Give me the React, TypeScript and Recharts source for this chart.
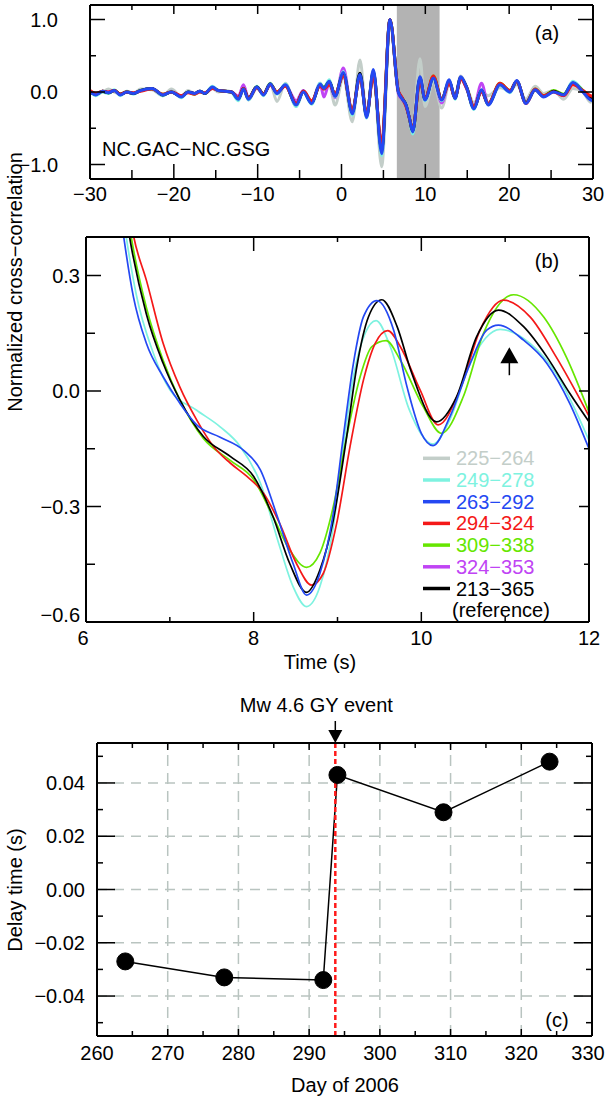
import React from "react";
import {
  LineChart,
  Line,
  XAxis,
  YAxis,
  ReferenceArea,
  ReferenceLine,
  ReferenceDot,
} from "recharts";

const FONT = "'Liberation Sans', Arial, Helvetica, sans-serif";
const FS = 20;

// ---- series styling (names as in the legend)
const names = ["225\u2212264", "249\u2212278", "263\u2212292", "294\u2212324", "309\u2212338", "324\u2212353", "213\u2212365"];
const colors = ["#c3cec9", "#7ef2e0", "#2448f2", "#f41818", "#66e600", "#c044f4", "#000000"];

// ---- panel (a): full waveforms, sampled at turning points
const tA = [-30, -29.3, -28.5, -27.8, -27.1, -26.4, -25.6, -24.8, -24.0, -22.6, -21.3, -20.3, -19.1, -18.3, -17.5, -16.9, -16.3, -15.4, -14.7, -13.9, -13.1, -12.3, -11.7, -11.1, -10.1, -9.3, -8.5, -7.7, -6.7, -5.4, -4.55, -3.56, -2.56, -2.1, -1.45, -0.77, 0.22, 1.29, 2.2, 3.0, 3.8, 4.79, 5.78, 6.78, 7.2, 7.7, 8.1, 8.49, 9.36, 9.96, 10.96, 11.95, 12.86, 13.54, 14.22, 14.9, 15.8, 16.7, 17.5, 18.9, 20.1, 20.9, 22.0, 23.1, 24.1, 25.3, 26.5, 27.6, 28.8, 29.7, 30];
const a225 = [-0.01, -0.02, 0.0, 0.04, 0.0, -0.03, 0.01, -0.02, 0.04, 0.03, -0.05, 0.04, -0.06, 0.02, -0.02, 0.0, -0.02, 0.05, 0.0, 0.02, 0.0, -0.09, 0.06, -0.11, 0.05, -0.02, 0.12, -0.13, 0.12, -0.2, 0.02, -0.15, 0.12, 0.03, 0.1, -0.18, 0.2, -0.41, 0.44, -0.32, 0.25, -1.03, 0.95, 0.02, -0.08, -0.17, -0.34, -0.5, 0.46, -0.2, 0.15, -0.22, 0.1, -0.05, 0.22, 0.08, -0.15, 0.0, -0.05, 0.06, 0.02, 0.1, -0.1, 0.08, -0.02, 0.02, -0.1, 0.05, 0.0, -0.14, -0.1];
const a249 = [0.01, -0.05, 0.0, -0.02, 0.03, -0.05, 0.01, -0.03, 0.02, 0.04, -0.05, 0.01, -0.08, 0.0, -0.03, 0.01, -0.02, 0.08, 0.02, 0.01, -0.01, -0.12, 0.04, -0.11, 0.08, -0.05, 0.12, -0.03, 0.11, -0.2, 0.0, -0.17, 0.12, 0.06, 0.17, -0.07, 0.28, -0.32, 0.25, -0.36, 0.3, -0.88, 0.99, 0.01, -0.08, -0.17, -0.37, -0.58, 0.2, -0.12, 0.18, -0.12, 0.16, -0.1, 0.2, 0.06, -0.24, 0.03, -0.18, 0.09, -0.01, 0.15, -0.15, 0.03, -0.06, 0.01, -0.04, 0.15, 0.02, -0.1, -0.12];
const a263 = [0.0, -0.04, 0.01, -0.01, 0.02, -0.04, 0.0, -0.02, 0.02, 0.05, -0.04, 0.0, -0.07, 0.0, -0.02, 0.01, -0.02, 0.07, 0.02, 0.01, 0.0, -0.1, 0.04, -0.1, 0.07, -0.04, 0.11, -0.02, 0.1, -0.18, 0.0, -0.16, 0.11, 0.05, 0.15, -0.06, 0.27, -0.3, 0.24, -0.35, 0.31, -0.85, 1.0, 0.0, -0.09, -0.18, -0.36, -0.55, 0.21, -0.11, 0.19, -0.11, 0.17, -0.09, 0.21, 0.07, -0.23, 0.03, -0.18, 0.1, 0.0, 0.16, -0.16, 0.03, -0.07, 0.0, -0.04, 0.13, 0.0, -0.11, -0.12];
const a294 = [0.02, -0.02, 0.01, 0.0, 0.02, -0.03, 0.0, -0.01, 0.01, 0.04, -0.03, 0.0, -0.05, -0.01, -0.03, 0.0, -0.01, 0.05, 0.02, 0.01, 0.0, -0.08, 0.05, -0.09, 0.06, -0.03, 0.1, 0.0, 0.08, -0.16, 0.01, -0.12, 0.08, 0.04, 0.1, -0.02, 0.22, -0.25, 0.2, -0.3, 0.22, -0.72, 1.0, 0.02, -0.07, -0.2, -0.36, -0.52, 0.15, -0.09, 0.22, -0.1, 0.12, -0.08, 0.18, 0.06, -0.2, 0.0, -0.16, 0.12, 0.02, 0.15, -0.16, 0.04, -0.05, 0.0, -0.05, 0.1, 0.02, -0.05, -0.06];
const a309 = [0.01, -0.03, 0.01, -0.01, 0.02, -0.03, 0.0, -0.02, 0.02, 0.04, -0.03, 0.0, -0.06, 0.0, -0.03, 0.01, -0.02, 0.06, 0.02, 0.01, 0.0, -0.09, 0.05, -0.09, 0.07, -0.03, 0.11, 0.0, 0.09, -0.17, 0.01, -0.13, 0.09, 0.07, 0.13, -0.03, 0.25, -0.27, 0.22, -0.32, 0.26, -0.78, 1.0, 0.01, -0.08, -0.19, -0.36, -0.53, 0.17, -0.1, 0.22, -0.1, 0.14, -0.08, 0.19, 0.07, -0.21, 0.02, -0.16, 0.12, 0.02, 0.15, -0.15, 0.04, -0.05, 0.02, -0.03, 0.12, 0.02, -0.07, -0.08];
const a324 = [0.0, -0.03, 0.01, 0.0, 0.02, -0.03, 0.0, -0.02, 0.02, 0.04, -0.04, 0.01, -0.06, 0.0, -0.02, 0.01, -0.02, 0.06, 0.02, 0.01, 0.0, -0.06, 0.1, -0.08, 0.07, -0.03, 0.1, -0.01, 0.09, -0.12, 0.02, -0.14, 0.12, -0.07, 0.12, -0.08, 0.33, -0.28, 0.22, -0.33, 0.28, -0.8, 0.99, -0.02, -0.1, -0.19, -0.36, -0.54, 0.2, -0.1, 0.2, -0.15, 0.14, -0.08, 0.2, 0.05, -0.2, 0.12, -0.16, 0.1, 0.0, 0.14, -0.14, 0.03, -0.06, 0.01, -0.05, 0.12, 0.01, -0.08, -0.1];
const a213 = [0.0, -0.03, 0.01, -0.01, 0.02, -0.03, 0.0, -0.02, 0.02, 0.05, -0.04, 0.0, -0.06, 0.0, -0.02, 0.01, -0.02, 0.06, 0.02, 0.01, 0.0, -0.09, 0.05, -0.09, 0.07, -0.03, 0.11, -0.01, 0.09, -0.17, 0.01, -0.15, 0.1, 0.05, 0.14, -0.05, 0.25, -0.28, 0.26, -0.33, 0.28, -0.8, 1.0, 0.01, -0.08, -0.18, -0.36, -0.54, 0.19, -0.1, 0.2, -0.1, 0.15, -0.08, 0.2, 0.07, -0.22, 0.02, -0.17, 0.11, 0.01, 0.15, -0.15, 0.03, -0.06, 0.01, -0.04, 0.12, 0.01, -0.08, -0.09];
const bandA = [6.6, 11.7];

// ---- panel (b): zoom 6-12 s, [time, value]
const b249 = [[6.32, 0.66], [6.48, 0.4], [6.6, 0.25], [6.8, 0.1], [7.0, 0.003], [7.32, -0.05], [7.6, -0.093], [7.84, -0.144], [8.08, -0.239], [8.31, -0.404], [8.47, -0.508], [8.63, -0.56], [8.79, -0.508], [8.95, -0.352], [9.07, -0.144], [9.19, 0.037], [9.33, 0.15], [9.46, 0.183], [9.63, 0.115], [9.85, -0.045], [10.14, -0.138], [10.34, -0.075], [10.58, 0.07], [10.94, 0.16], [11.3, 0.123], [11.61, 0.045], [12.0, -0.128]];
const b263 = [[6.3, 0.66], [6.45, 0.4], [6.565, 0.245], [6.72, 0.124], [6.92, 0.037], [7.12, -0.032], [7.32, -0.088], [7.6, -0.12], [7.88, -0.154], [8.08, -0.205], [8.27, -0.318], [8.47, -0.448], [8.63, -0.53], [8.79, -0.474], [8.95, -0.318], [9.07, -0.118], [9.19, 0.072], [9.31, 0.193], [9.47, 0.235], [9.67, 0.158], [9.83, 0.01], [10.0, -0.11], [10.14, -0.142], [10.34, -0.067], [10.58, 0.07], [10.78, 0.158], [10.92, 0.171], [11.22, 0.132], [11.5, 0.071], [11.77, -0.032], [12.0, -0.15]];
const b294 = [[6.35, 0.75], [6.57, 0.4], [6.72, 0.288], [6.92, 0.124], [7.12, 0.01], [7.32, -0.075], [7.52, -0.144], [7.72, -0.187], [7.92, -0.222], [8.12, -0.266], [8.31, -0.344], [8.51, -0.448], [8.69, -0.504], [8.83, -0.474], [8.99, -0.344], [9.15, -0.144], [9.31, 0.029], [9.45, 0.124], [9.6, 0.157], [9.75, 0.115], [9.985, 0.003], [10.2, -0.088], [10.46, 0.003], [10.7, 0.158], [10.98, 0.236], [11.3, 0.192], [11.61, 0.088], [12.0, -0.065]];
const b309 = [[6.35, 0.72], [6.54, 0.4], [6.72, 0.217], [6.92, 0.08], [7.12, -0.023], [7.4, -0.123], [7.72, -0.18], [8.0, -0.23], [8.23, -0.326], [8.43, -0.413], [8.63, -0.458], [8.79, -0.421], [8.95, -0.3], [9.11, -0.118], [9.27, 0.037], [9.41, 0.115], [9.58, 0.131], [9.75, 0.08], [10.02, -0.04], [10.24, -0.11], [10.5, -0.015], [10.74, 0.149], [11.1, 0.25], [11.46, 0.192], [11.73, 0.088], [12.0, -0.055]];
const b213 = [[6.33, 0.7], [6.52, 0.4], [6.72, 0.2], [6.92, 0.072], [7.12, -0.023], [7.4, -0.118], [7.72, -0.17], [8.0, -0.222], [8.23, -0.326], [8.43, -0.448], [8.63, -0.523], [8.79, -0.465], [8.95, -0.335], [9.11, -0.118], [9.23, 0.063], [9.37, 0.193], [9.53, 0.237], [9.71, 0.168], [9.88, 0.05], [10.18, -0.08], [10.42, -0.015], [10.66, 0.141], [10.92, 0.21], [11.22, 0.167], [11.5, 0.088], [11.77, -0.006], [12.0, -0.08]];
const arrowB = { t: 11.05, v: 0.041 };

// ---- panel (c): delay times
const days = [264, 278, 292, 294, 309, 324];
const delays = [-0.027, -0.033, -0.034, 0.043, 0.029, 0.048];
const eventDay = 293.7;
const gridDays = [270, 280, 290, 300, 310, 320];
const gridDelays = [-0.04, -0.02, 0, 0.02, 0.04];

const rows = (ts: number[], vs: number[]) => ts.map((t, i) => ({ t, v: vs[i] }));
const pairs = (p: number[][]) => p.map(([t, v]) => ({ t, v }));
const signed = (v: number, d: number) => (v < 0 ? "\u2212" + Math.abs(v).toFixed(d) : v.toFixed(d));

type Side = "bottom" | "top" | "left" | "right";

// ticks drawn inward, longer on labelled values
function boxTick(
  side: Side,
  majors: number[],
  majLen: number,
  minLen: number,
  fmt?: (v: number) => string,
  gap = 0,
  nudge?: (v: number) => number,
) {
  return (p: any) => {
    const v = Number(p.payload.value);
    const isMajor = majors.some((m) => Math.abs(m - v) < 1e-9);
    const len = isMajor ? majLen : minLen;
    const x = p.x;
    const y = p.y;
    let x2 = x;
    let y2 = y;
    if (side === "bottom") y2 = y - len;
    if (side === "top") y2 = y + len;
    if (side === "left") x2 = x + len;
    if (side === "right") x2 = x - len;
    const shift = nudge ? nudge(v) : 0;
    let label = null;
    if (isMajor && fmt && side === "bottom")
      label = (
        <text x={x + shift} y={y + gap} dy="0.35em" textAnchor="middle" fontFamily={FONT} fontSize={FS} fill="#000">
          {fmt(v)}
        </text>
      );
    if (isMajor && fmt && side === "left")
      label = (
        <text x={x - gap} y={y + shift} dy="0.35em" textAnchor="end" fontFamily={FONT} fontSize={FS} fill="#000">
          {fmt(v)}
        </text>
      );
    return (
      <g>
        <line x1={x} y1={y} x2={x2} y2={y2} stroke="#000" strokeWidth={1.5} />
        {label}
      </g>
    );
  };
}

const axisLine = { stroke: "#000", strokeWidth: 2 };

function Box({
  xDomain, yDomain, xTicks, yTicks, xMajors, yMajors, len, xFmt, yFmt, xGap, yGap, xNudge, yNudge,
}: any) {
  // the four framing axes, ticks pointing inward
  return [
    <XAxis key="xb" xAxisId="b" type="number" dataKey="t" domain={xDomain} allowDataOverflow ticks={xTicks} interval={0}
      height={xGap.h} tickSize={0} tickMargin={0} tickLine={false} axisLine={axisLine}
      tick={boxTick("bottom", xMajors, len.b[0], len.b[1], xFmt, xGap.g, xNudge)} />,
    <XAxis key="xt" xAxisId="t" orientation="top" type="number" dataKey="t" domain={xDomain} allowDataOverflow ticks={xTicks} interval={0}
      height={1} tickSize={0} tickMargin={0} tickLine={false} axisLine={axisLine}
      tick={boxTick("top", xMajors, len.t[0], len.t[1])} />,
    <YAxis key="yl" yAxisId="l" type="number" domain={yDomain} allowDataOverflow ticks={yTicks} interval={0}
      width={yGap.w} tickSize={0} tickMargin={0} tickLine={false} axisLine={axisLine}
      tick={boxTick("left", yMajors, len.l[0], len.l[1], yFmt, yGap.g, yNudge)} />,
    <YAxis key="yr" yAxisId="r" orientation="right" type="number" domain={yDomain} allowDataOverflow ticks={yTicks} interval={0}
      width={1} tickSize={0} tickMargin={0} tickLine={false} axisLine={axisLine}
      tick={boxTick("right", yMajors, len.r[0], len.r[1])} />,
  ];
}

const aSeries = [a225, a324, a249, a309, a213, a294, a263];
const aColors = [colors[0], colors[5], colors[1], colors[4], colors[6], colors[3], colors[2]];
const bSeries = [b249, b309, b294, b213, b263];
const bColors = [colors[1], colors[4], colors[3], colors[6], colors[2]];

function ArrowUp(p: any) {
  const { cx, cy } = p;
  return (
    <g>
      <line x1={cx} y1={cy} x2={cx} y2={cy - 13} stroke="#000" strokeWidth={1.5} />
      <polygon points={`${cx - 9},${cy - 12} ${cx + 9},${cy - 12} ${cx},${cy - 28}`} fill="#000" />
    </g>
  );
}

function EventMarker(p: any) {
  const vb = p.viewBox || {};
  const x = vb.x;
  const y = vb.y;
  return (
    <g>
      <text x={x - 19} y={y - 38} dy="0.35em" textAnchor="middle" fontFamily={FONT} fontSize={FS} fill="#000">
        Mw 4.6 GY event
      </text>
      <line x1={x} y1={y - 22} x2={x} y2={y - 12} stroke="#000" strokeWidth={1.5} />
      <polygon points={`${x - 7},${y - 13} ${x + 7},${y - 13} ${x},${y}`} fill="#000" />
    </g>
  );
}

export default function App() {
  const txt = { fontFamily: FONT, fontSize: FS, fill: "#000" } as const;
  return (
    <div style={{ position: "absolute", left: 0, top: 0, width: 607, height: 1099, background: "#fff" }}>
      {/* (a) */}
      <div style={{ position: "absolute", left: 0, top: 0 }}>
        <LineChart width={607} height={215} margin={{ top: 4, right: 13, bottom: 6, left: 30 }}>
          {Box({
            xDomain: [-30, 30], yDomain: [-1.2, 1.2],
            xTicks: [-30, -25, -20, -15, -10, -5, 0, 5, 10, 15, 20, 25, 30],
            yTicks: [-1, -0.5, 0, 0.5, 1],
            xMajors: [-30, -20, -10, 0, 10, 20, 30], yMajors: [-1, 0, 1],
            len: { b: [15, 9], t: [9, 5], l: [15, 6], r: [15, 7] },
            xFmt: (v: number) => signed(v, 0), yFmt: (v: number) => signed(v, 1),
            xGap: { h: 30, g: 15 }, yGap: { w: 60, g: 32 },
          })}
          <ReferenceArea xAxisId="b" yAxisId="l" x1={bandA[0]} x2={bandA[1]} y1={-1.2} y2={1.2} fill="#b3b3b3" fillOpacity={1} stroke="none" />
          {aSeries.map((s, i) => (
            <Line key={i} xAxisId="b" yAxisId="l" data={rows(tA, s)} dataKey="v" type="monotone"
              stroke={aColors[i]} strokeWidth={3} dot={false} isAnimationActive={false} />
          ))}
        </LineChart>
      </div>

      {/* (b) */}
      <div style={{ position: "absolute", left: 0, top: 225 }}>
        <LineChart width={607} height={450} margin={{ top: 11, right: 17, bottom: 3, left: 30 }}>
          {Box({
            xDomain: [6, 12], yDomain: [-0.6, 0.4],
            xTicks: [6, 7, 8, 9, 10, 11, 12],
            yTicks: [-0.6, -0.45, -0.3, -0.15, 0, 0.15, 0.3],
            xMajors: [6, 8, 10, 12], yMajors: [-0.6, -0.3, 0, 0.3],
            len: { b: [10, 5], t: [14, 5], l: [15, 9], r: [10, 5] },
            xFmt: (v: number) => String(v), yFmt: (v: number) => signed(v, 1),
            xGap: { h: 50, g: 16 }, yGap: { w: 56, g: 6 },
            xNudge: (v: number) => (v < 6.5 ? -3 : 0),
            yNudge: (v: number) => (v < -0.55 ? -7 : 0),
          })}
          {bSeries.map((s, i) => (
            <Line key={i} xAxisId="b" yAxisId="l" data={pairs(s)} dataKey="v" type="monotone"
              stroke={bColors[i]} strokeWidth={1.7} dot={false} isAnimationActive={false} />
          ))}
          <ReferenceDot xAxisId="b" yAxisId="l" x={arrowB.t} y={arrowB.v} shape={ArrowUp} />
        </LineChart>
      </div>

      {/* (c) */}
      <div style={{ position: "absolute", left: 0, top: 690 }}>
        <LineChart width={607} height={409} margin={{ top: 52, right: 14, bottom: 8, left: 37 }}>
          {Box({
            xDomain: [260, 330], yDomain: [-0.055, 0.055],
            xTicks: [260, 265, 270, 275, 280, 285, 290, 295, 300, 305, 310, 315, 320, 325, 330],
            yTicks: [-0.05, -0.04, -0.03, -0.02, -0.01, 0, 0.01, 0.02, 0.03, 0.04, 0.05],
            xMajors: [260, 270, 280, 290, 300, 310, 320, 330], yMajors: gridDelays,
            len: { b: [7, 5], t: [7, 5], l: [18, 6], r: [18, 6] },
            xFmt: (v: number) => String(v), yFmt: (v: number) => signed(v, 2),
            xGap: { h: 55, g: 17 }, yGap: { w: 60, g: 12 },
            xNudge: (v: number) => (v > 325 ? -4 : 0),
          })}
          {gridDays.map((d) => (
            <ReferenceLine key={"gx" + d} xAxisId="b" yAxisId="l" x={d} stroke="#b9c4c0" strokeWidth={1.5} strokeDasharray="11 7" />
          ))}
          {gridDelays.map((d) => (
            <ReferenceLine key={"gy" + d} xAxisId="b" yAxisId="l" y={d} stroke="#b9c4c0" strokeWidth={1.5} strokeDasharray="10 7" />
          ))}
          <Line xAxisId="b" yAxisId="l" data={rows(days, delays)} dataKey="v" type="linear" stroke="#000" strokeWidth={1.5}
            dot={{ r: 8.5, fill: "#000", stroke: "#000", strokeWidth: 1 }} isAnimationActive={false} />
          <ReferenceLine xAxisId="b" yAxisId="l" x={eventDay} stroke="#ff1a1a" strokeWidth={2.5} strokeDasharray="5 3"
            label={(p: any) => <EventMarker {...p} />} />
        </LineChart>
      </div>

      {/* free text and legend */}
      <svg width={607} height={1099} style={{ position: "absolute", left: 0, top: 0, pointerEvents: "none" }}>
        <text x={547} y={33} dy="0.35em" textAnchor="middle" {...txt}>(a)</text>
        <text x={102} y={149} dy="0.35em" {...txt}>NC.GAC{"\u2212"}NC.GSG</text>
        <text x={547} y={261} dy="0.35em" textAnchor="middle" {...txt}>(b)</text>
        <text x={557} y={1020} dy="0.35em" textAnchor="middle" {...txt}>(c)</text>
        <text x={320} y={662} dy="0.35em" textAnchor="middle" {...txt}>Time (s)</text>
        <text x={345} y={1085} dy="0.35em" textAnchor="middle" {...txt}>Day of 2006</text>
        <text transform="translate(15,282) rotate(-90)" dy="0.35em" textAnchor="middle" {...txt}>Normalized cross{"\u2212"}correlation</text>
        <text transform="translate(15,890) rotate(-90)" dy="0.35em" textAnchor="middle" {...txt}>Delay time (s)</text>
        {names.map((n, i) => (
          <g key={n}>
            <line x1={423} x2={450} y1={458.3 + i * 21.7} y2={458.3 + i * 21.7} stroke={colors[i]} strokeWidth={3.5} />
            <text x={456} y={458.3 + i * 21.7} dy="0.35em" fontFamily={FONT} fontSize={FS} fill={colors[i]}>{n}</text>
          </g>
        ))}
        <text x={452} y={610} dy="0.35em" {...txt}>(reference)</text>
      </svg>
    </div>
  );
}
